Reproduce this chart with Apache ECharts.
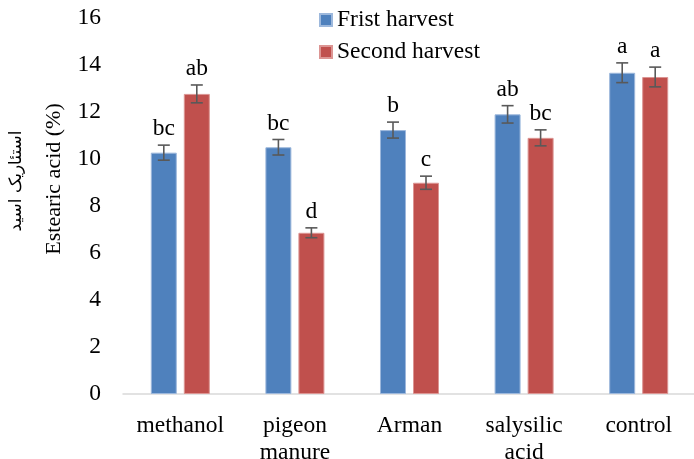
<!DOCTYPE html>
<html>
<head>
<meta charset="utf-8">
<script src="https://cdn.jsdelivr.net/npm/echarts@6/dist/echarts.min.js"></script>
<style>
  html, body { margin: 0; padding: 0; background: #fff; }
  #chart { width: 694px; height: 459px; }
</style>
</head>
<body>
<div id="chart"></div>
<script>
// data
var categories = ["methanol", "pigeon\nmanure", "Arman", "salysilic\nacid", "control"];
var firstHarvest = [10.27, 10.50, 11.23, 11.90, 13.67];
var secondHarvest = [12.77, 6.86, 8.99, 10.90, 13.49];
var firstErr = [0.32, 0.33, 0.34, 0.37, 0.42];
var secondErr = [0.38, 0.21, 0.28, 0.34, 0.42];
var firstLetters = ["bc", "bc", "b", "ab", "a"];
var secondLetters = ["ab", "d", "c", "bc", "a"];
var yTicks = [0, 16, 2]; // min, max, step

var serif = "'Liberation Serif', 'Times New Roman', serif";
var fs = 23.5;
var blue = "#4F81BD";
var red = "#C0504D";

// error bars + significance letters, drawn from the value axis
function errItem(vals, errs, letters, offset) {
  return function (params, api) {
    var i = api.value(0);
    var v = vals[i], e = errs[i];
    var top = api.coord([i, v + e]);
    var bot = api.coord([i, v - e]);
    var x = top[0] + offset;
    var cap = 6;
    var st = { stroke: "#595959", lineWidth: 1.6 };
    return {
      type: "group",
      children: [
        { type: "line", shape: { x1: x, y1: top[1], x2: x, y2: bot[1] }, style: st },
        { type: "line", shape: { x1: x - cap, y1: top[1], x2: x + cap, y2: top[1] }, style: st },
        { type: "line", shape: { x1: x - cap, y1: bot[1], x2: x + cap, y2: bot[1] }, style: st },
        { type: "text", style: { x: x, y: top[1] - 4, text: letters[i], align: "center",
            verticalAlign: "bottom", font: fs + "px " + serif, fill: "#000" } }
      ]
    };
  };
}

var myChart = echarts.init(document.getElementById("chart"));

var option = {
  animation: false,
  grid: { left: 123, top: 18, width: 573, height: 376, outerBoundsMode: "none", containLabel: false },
  legend: {
    data: ["Frist harvest", "Second harvest"],
    orient: "vertical",
    left: 314,
    top: 3,
    icon: "rect",
    itemWidth: 12,
    itemHeight: 12,
    itemGap: 8,
    textStyle: { fontFamily: serif, fontSize: fs, color: "#000" }
  },
  xAxis: {
    type: "category",
    data: categories,
    axisLine: { lineStyle: { color: "#D9D9D9", width: 1.5 } },
    axisTick: { show: false },
    axisLabel: { color: "#000", fontFamily: serif, fontSize: fs, margin: 18, lineHeight: 27 }
  },
  yAxis: {
    type: "value",
    min: yTicks[0],
    max: yTicks[1],
    interval: yTicks[2],
    splitLine: { show: false },
    axisLine: { show: false },
    axisTick: { show: false },
    axisLabel: { color: "#000", fontFamily: serif, fontSize: fs, margin: 22 }
  },
  graphic: [
    { type: "text", x: 54, y: 179, rotation: Math.PI / 2,
      style: { text: "Estearic acid (%)", font: "22px " + serif, fill: "#000",
        align: "center", verticalAlign: "middle" } },
    { type: "text", x: 17, y: 181, rotation: Math.PI / 2,
      style: { text: "استئاریک اسید", font: "17px 'DejaVu Sans', 'Noto Sans', sans-serif", fill: "#000",
        align: "center", verticalAlign: "middle" } }
  ],
  series: [
    {
      name: "Frist harvest",
      type: "bar",
      data: firstHarvest,
      barWidth: 26,
      barGap: "27%",
      itemStyle: { color: blue, borderColor: "#9db8dc", borderWidth: 1 }
    },
    {
      name: "Second harvest",
      type: "bar",
      data: secondHarvest,
      barWidth: 26,
      itemStyle: { color: red, borderColor: "#dc9593", borderWidth: 1 }
    },
    {
      type: "custom",
      renderItem: errItem(firstHarvest, firstErr, firstLetters, -16.5),
      data: categories.map(function (c, i) { return [i]; }),
      z: 5
    },
    {
      type: "custom",
      renderItem: errItem(secondHarvest, secondErr, secondLetters, 16.5),
      data: categories.map(function (c, i) { return [i]; }),
      z: 5
    }
  ]
};

myChart.setOption(option);
</script>
</body>
</html>
